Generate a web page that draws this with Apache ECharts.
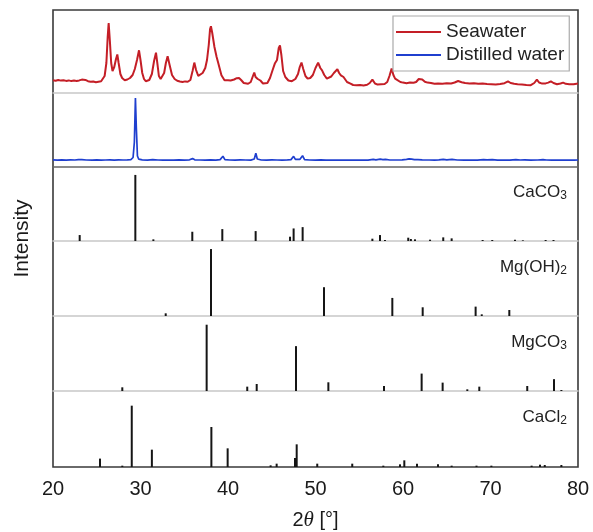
<!DOCTYPE html>
<html>
<head>
<meta charset="utf-8">
<script src="https://cdn.jsdelivr.net/npm/echarts@6/dist/echarts.min.js"></script>
<style>html,body{margin:0;padding:0;background:#fff;}#c{width:593px;height:532px;}</style>
</head>
<body>
<div id="c"></div>
<script>
// X axis ticks (2theta, degrees)
const xTicks = [20, 30, 40, 50, 60, 70, 80];

// Seawater XRD pattern [2theta, intensity (a.u.)]
const seawater = [
[20.0,127],[20.3,122],[20.6,130],[20.9,124],[21.2,128],[21.5,121],[21.8,126],[22.1,119],[22.4,124],[22.7,121],
[23.0,126],[23.3,134],[23.5,142],[23.7,131],[24.0,118],[24.3,112],[24.6,115],[24.9,108],[25.2,113],[25.5,118],
[25.7,130],[25.9,170],[26.1,300],[26.25,560],[26.36,700],[26.5,520],[26.65,300],[26.8,220],[27.0,260],[27.2,340],
[27.35,385],[27.5,300],[27.7,190],[27.9,150],[28.2,128],[28.5,135],[28.8,150],[29.1,180],[29.35,240],[29.6,330],
[29.83,427],[30.0,330],[30.2,200],[30.4,140],[30.6,118],[30.8,114],[31.0,130],[31.3,190],[31.55,320],[31.77,404],
[31.95,280],[32.1,170],[32.3,140],[32.5,150],[32.7,200],[32.9,300],[33.1,367],[33.3,290],[33.6,180],[33.9,140],
[34.2,122],[34.5,115],[34.8,110],[35.1,116],[35.4,112],[35.7,130],[35.95,220],[36.15,304],[36.35,230],[36.6,172],
[36.8,175],[37.1,200],[37.4,250],[37.6,330],[37.8,480],[37.95,640],[38.05,667],[38.2,600],[38.45,460],[38.7,360],
[38.9,294],[39.25,177],[39.6,127],[39.8,140],[40.0,128],[40.3,125],[40.7,135],[41.0,148],[41.26,150],[41.5,130],
[41.8,100],[42.0,87],[42.3,92],[42.6,110],[42.85,170],[43.0,204],[43.15,160],[43.4,140],[43.7,125],[44.0,95],
[44.2,77],[44.5,100],[44.8,150],[45.1,230],[45.35,294],[45.6,330],[45.8,450],[45.94,477],[46.1,380],[46.3,220],
[46.55,160],[46.9,125],[47.3,118],[47.7,140],[48.0,190],[48.2,260],[48.4,304],[48.6,240],[48.85,170],[49.1,144],
[49.4,150],[49.7,180],[50.0,250],[50.3,304],[50.55,250],[50.75,227],[51.0,180],[51.3,144],[51.5,144],[51.8,165],
[52.1,200],[52.3,215],[52.5,237],[52.7,200],[52.9,177],[53.2,160],[53.6,110],[54.0,94],[54.3,80],[54.7,77],
[55.1,80],[55.5,76],[55.9,82],[56.2,100],[56.5,134],[56.8,95],[57.1,84],[57.5,87],[57.9,90],[58.2,110],
[58.45,170],[58.7,244],[58.9,180],[59.1,144],[59.3,127],[59.7,110],[60.0,104],[60.4,98],[60.8,105],[61.2,102],
[61.5,110],[61.8,140],[62.0,160],[62.2,135],[62.5,112],[62.8,104],[63.2,100],[63.6,92],[64.0,96],[64.5,93],
[65.0,97],[65.5,95],[65.9,105],[66.3,120],[66.7,108],[67.1,100],[67.6,96],[68.1,98],[68.6,92],[69.1,94],
[69.6,90],[70.1,88],[70.6,86],[71.1,90],[71.6,98],[72.0,117],[72.3,100],[72.7,92],[73.1,88],[73.6,84],
[74.1,80],[74.6,78],[75.0,100],[75.3,134],[75.55,105],[75.9,94],[76.3,96],[76.6,104],[76.9,117],[77.2,100],
[77.6,88],[78.0,95],[78.3,104],[78.6,92],[79.0,88],[79.5,87],[80.0,94]
];

// Distilled water XRD pattern [2theta, intensity (a.u.)]
const distilled = [
[20.0,72],[20.5,68],[21.0,71],[21.5,69],[22.0,72],[22.5,70],[22.9,74],[23.1,88],[23.3,74],[23.8,70],
[24.5,68],[25.0,71],[25.5,69],[26.0,70],[26.5,72],[27.0,69],[27.5,71],[28.0,70],[28.5,72],[28.9,74],
[29.15,95],[29.3,250],[29.42,690],[29.52,400],[29.65,110],[29.8,78],[30.2,72],[30.8,69],[31.4,74],[32.0,70],
[32.6,68],[33.2,70],[33.8,69],[34.4,71],[35.0,69],[35.6,72],[35.95,84],[36.2,72],[36.8,70],[37.4,69],
[38.0,71],[38.6,69],[39.1,74],[39.42,108],[39.65,74],[40.2,70],[40.8,69],[41.4,71],[42.0,70],[42.6,69],
[43.0,80],[43.18,137],[43.35,80],[43.8,70],[44.4,69],[45.0,71],[45.6,70],[46.2,69],[46.8,71],[47.2,74],
[47.5,107],[47.7,76],[48.2,76],[48.52,113],[48.75,74],[49.3,70],[50.0,69],[50.6,71],[51.2,69],[51.8,70],
[52.4,68],[53.0,70],[53.6,69],[54.2,70],[54.8,68],[55.4,70],[56.0,69],[56.6,76],[56.9,72],[57.4,78],
[57.7,74],[58.0,76],[58.5,70],[59.2,70],[59.9,71],[60.4,76],[60.7,82],[61.0,78],[61.3,74],[61.7,73],
[62.2,71],[63.0,70],[63.6,69],[64.1,71],[64.6,77],[65.0,72],[65.6,76],[66.2,70],[67.0,69],[67.8,70],
[68.5,69],[69.2,74],[69.6,71],[70.2,73],[70.8,69],[71.5,70],[72.2,69],[72.9,74],[73.4,70],[73.9,72],
[74.6,69],[75.4,70],[76.0,73],[76.4,70],[77.0,69],[77.6,70],[78.3,69],[79.0,70],[79.6,69],[80.0,70]
];

// Reference stick patterns [2theta, relative intensity]
const caco3 = [
[23.05,9],[29.41,100],[31.47,2.5],[35.92,14],[39.35,18],[43.16,15],[47.09,6.5],[47.5,19],[48.53,21],
[56.5,3.5],[57.37,9],[57.94,1.5],[60.6,5],[60.9,3],[61.37,2.5],[63.09,2],[64.6,5.5],[65.56,4],
[69.1,1.5],[70.2,1.5],[72.8,2],[73.7,1],[76.3,1.5],[77.2,1.5]
];
const mgoh2 = [
[32.88,4],[38.06,100],[50.97,43],[58.78,27],[62.25,13],[68.3,14],[69.0,2.5],[72.15,9]
];
const mgco3 = [
[27.92,5.5],[37.56,99],[42.2,6.5],[43.28,10.5],[47.77,67],[51.47,13],[57.83,7.5],[62.13,26],
[64.53,12.5],[67.35,2.5],[68.72,6.5],[74.2,7.5],[77.26,17.7],[78.1,1.5]
];
const cacl2 = [
[25.37,12.6],[27.92,2],[29.0,92],[31.3,26],[38.1,60],[39.96,28],[44.87,2.5],[45.56,5],[47.66,13.5],
[47.85,34],[50.2,5],[54.2,5],[57.75,2],[59.66,4],[60.15,10],[61.6,5],[64.0,4],[65.56,2],[68.4,2],
[70.1,2],[74.7,2],[75.66,3.5],[76.2,3],[78.1,3]
];

const seriesNames = ['Seawater', 'Distilled water'];
const phaseLabels = ['{m|CaCO}{s|3}', '{m|Mg(OH)}{s|2}', '{m|MgCO}{s|3}', '{m|CaCl}{s|2}'];

const FONT = 'Liberation Sans';
const L = 53, R = 15;
const panels = [
  {top: 10, height: 83},
  {top: 93, height: 74},
  {top: 167, height: 74},
  {top: 241, height: 75},
  {top: 316, height: 75},
  {top: 391, height: 76}
];
const grids = panels.map(p => ({left: L, right: R, top: p.top, height: p.height, show: false}));
grids.push({left: L, right: R, top: 10, bottom: 65, show: true, borderColor: '#3a3a3a', borderWidth: 1.6, backgroundColor: 'transparent'});

const lineColors = ['#c41e26', '#1f3fcf'];
const dividerColors = ['#c8c8c8', '#666666', '#c8c8c8', '#c8c8c8', '#c8c8c8'];

const xAxes = panels.map((p, i) => {
  const last = i === panels.length - 1;
  return {
    type: 'value', gridIndex: i, min: xTicks[0], max: xTicks[xTicks.length - 1], interval: 10,
    axisLine: {show: !last, onZero: false, lineStyle: {color: dividerColors[i] || '#c8c8c8', width: 1.5}},
    axisTick: {show: false},
    splitLine: {show: false},
    axisLabel: {show: last, fontSize: 20, color: '#1a1a1a', fontFamily: FONT, margin: 12},
    name: last ? '{n|2}{t|θ}{n| [°]}' : '',
    nameLocation: 'middle',
    nameGap: 43,
    nameTextStyle: {rich: {
      n: {fontSize: 20, fontFamily: FONT, color: '#1a1a1a'},
      t: {fontSize: 21, fontFamily: 'Liberation Serif', fontStyle: 'italic', color: '#1a1a1a'}
    }}
  };
});
xAxes.push({type: 'value', gridIndex: 6, min: 20, max: 80, show: false});

const yMax = [830, 740, 112, 112, 112, 114];
const yAxes = panels.map((p, i) => ({type: 'value', gridIndex: i, min: 0, max: yMax[i], show: false}));
yAxes.push({
  type: 'value', gridIndex: 6, min: 0, max: 1,
  axisLine: {show: false}, axisTick: {show: false}, axisLabel: {show: false}, splitLine: {show: false},
  name: 'Intensity', nameLocation: 'middle', nameGap: 20,
  nameTextStyle: {fontSize: 21, fontFamily: FONT, color: '#1a1a1a'}
});

const series = [
  {name: seriesNames[0], type: 'line', xAxisIndex: 0, yAxisIndex: 0, data: seawater, symbol: 'none',
   lineStyle: {color: lineColors[0], width: 2}, itemStyle: {color: lineColors[0]}, animation: false},
  {name: seriesNames[1], type: 'line', xAxisIndex: 1, yAxisIndex: 1, data: distilled, symbol: 'none',
   lineStyle: {color: lineColors[1], width: 1.7}, itemStyle: {color: lineColors[1]}, animation: false}
];
[caco3, mgoh2, mgco3, cacl2].forEach((d, k) => {
  series.push({type: 'bar', xAxisIndex: k + 2, yAxisIndex: k + 2, data: d, barWidth: 2,
    itemStyle: {color: '#151515'}, animation: false});
});

const labelTops = [177, 252, 327, 402];
const titles = phaseLabels.map((t, k) => ({
  text: t, right: 21, top: labelTops[k],
  textStyle: {fontWeight: 'normal', rich: {
    m: {fontSize: 17, fontFamily: FONT, fontWeight: 'normal', color: '#222', lineHeight: 20},
    s: {fontSize: 12, fontFamily: FONT, fontWeight: 'normal', color: '#222', lineHeight: 8, verticalAlign: 'bottom'}
  }}
}));

const chart = echarts.init(document.getElementById('c'), null, {renderer: 'canvas'});
chart.setOption({
  animation: false,
  backgroundColor: '#fff',
  title: titles,
  legend: {
    data: seriesNames, orient: 'vertical', left: 393, top: 16,
    icon: 'rect', itemWidth: 45, itemHeight: 2, itemGap: 1, itemTextGap: 6,
    padding: [5, 5, 5, 3],
    borderColor: '#aaaaaa', borderWidth: 1.2, backgroundColor: '#fff',
    textStyle: {fontSize: 19, fontFamily: FONT, color: '#222', lineHeight: 22}
  },
  grid: grids,
  xAxis: xAxes,
  yAxis: yAxes,
  series: series
});
</script>
</body>
</html>
